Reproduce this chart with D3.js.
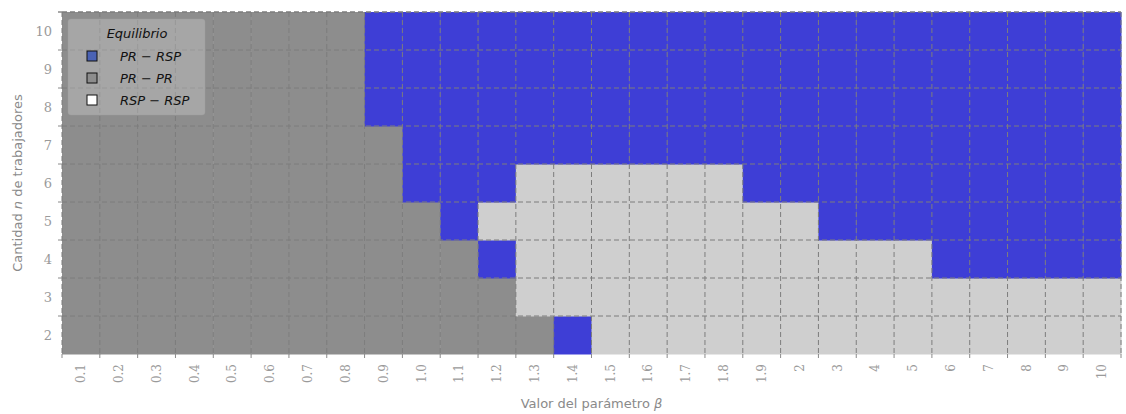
<!DOCTYPE html>
<html>
<head>
<meta charset="utf-8">
<script src="https://cdn.jsdelivr.net/npm/d3@7"></script>
<style>
  html, body { margin: 0; padding: 0; background: #fff; }
  svg { display: block; }
</style>
</head>
<body>
<svg id="chart" width="1126" height="414"></svg>
<script>
// β values along the horizontal axis
const betas = ["0.1","0.2","0.3","0.4","0.5","0.6","0.7","0.8","0.9","1.0","1.1","1.2","1.3","1.4","1.5","1.6","1.7","1.8","1.9","2","3","4","5","6","7","8","9","10"];
// number of workers n along the vertical axis
const workers = ["2","3","4","5","6","7","8","9","10"];
// equilibrium type per cell: 0 = PR−RSP, 1 = PR−PR, 2 = RSP−RSP
// one row per n (from n=2 up to n=10), one entry per β
const eqByN = {
  "2":  [1,1,1,1,1,1,1,1,1,1,1,1,1,0,2,2,2,2,2,2,2,2,2,2,2,2,2,2],
  "3":  [1,1,1,1,1,1,1,1,1,1,1,1,2,2,2,2,2,2,2,2,2,2,2,2,2,2,2,2],
  "4":  [1,1,1,1,1,1,1,1,1,1,1,0,2,2,2,2,2,2,2,2,2,2,2,0,0,0,0,0],
  "5":  [1,1,1,1,1,1,1,1,1,1,0,2,2,2,2,2,2,2,2,2,0,0,0,0,0,0,0,0],
  "6":  [1,1,1,1,1,1,1,1,1,0,0,0,2,2,2,2,2,2,0,0,0,0,0,0,0,0,0,0],
  "7":  [1,1,1,1,1,1,1,1,1,0,0,0,0,0,0,0,0,0,0,0,0,0,0,0,0,0,0,0],
  "8":  [1,1,1,1,1,1,1,1,0,0,0,0,0,0,0,0,0,0,0,0,0,0,0,0,0,0,0,0],
  "9":  [1,1,1,1,1,1,1,1,0,0,0,0,0,0,0,0,0,0,0,0,0,0,0,0,0,0,0,0],
  "10": [1,1,1,1,1,1,1,1,0,0,0,0,0,0,0,0,0,0,0,0,0,0,0,0,0,0,0,0]
};
const eqLabels = ["PR \u2212 RSP", "PR \u2212 PR", "RSP \u2212 RSP"];
const cellColors = ["#3e3ed6", "#8d8d8d", "#cfcfcf"];
const legendColors = ["#4a62b4", "#8d8d8d", "#ffffff"];

const svg = d3.select("#chart");
const margin = { left: 62, right: 5, top: 12, bottom: 60 };
const W = 1126, H = 414;
const x0 = margin.left, x1 = W - margin.right;
const y0 = margin.top, y1 = H - margin.bottom;

const x = d3.scaleBand().domain(betas).range([x0, x1]).padding(0);
const y = d3.scaleBand().domain(workers).range([y1, y0]).padding(0);

// cells
const cells = [];
workers.forEach(n => betas.forEach((b, i) => cells.push({ n, b, v: eqByN[n][i] })));
svg.append("g").selectAll("rect").data(cells).join("rect")
  .attr("x", d => x(d.b))
  .attr("y", d => y(d.n))
  .attr("width", x.bandwidth() + 0.5)
  .attr("height", y.bandwidth() + 0.5)
  .attr("fill", d => cellColors[d.v]);

// dashed grid on cell boundaries
const grid = svg.append("g").attr("stroke", "#7d7d7d").attr("stroke-width", 1)
  .attr("stroke-dasharray", "5,3").attr("fill", "none");
const xEdges = betas.map(b => x(b)).concat([x1]);
const yEdges = workers.map(n => y(n)).concat([y0]);
xEdges.forEach(px => grid.append("line").attr("x1", px).attr("x2", px).attr("y1", y0).attr("y2", y1));
yEdges.forEach(py => grid.append("line").attr("y1", py).attr("y2", py).attr("x1", x0).attr("x2", x1));

// tick marks on boundaries
const ticks = svg.append("g").attr("stroke", "#8a8a8a").attr("stroke-width", 1);
xEdges.forEach(px => ticks.append("line").attr("x1", px).attr("x2", px).attr("y1", y1).attr("y2", y1 + 4));
yEdges.forEach(py => ticks.append("line").attr("y1", py).attr("y2", py).attr("x1", x0 - 4).attr("x2", x0));

// tick labels at cell centres
const tickFont = "'DejaVu Serif', serif";
svg.append("g").selectAll("text").data(betas).join("text")
  .attr("transform", d => `translate(${x(d) + x.bandwidth() / 2},${y1 + 10}) rotate(-90)`)
  .attr("text-anchor", "end").attr("dy", "0.35em")
  .attr("font-family", tickFont).attr("font-size", 12).attr("fill", "#9a9a9a")
  .text(d => d);
svg.append("g").selectAll("text").data(workers).join("text")
  .attr("x", x0 - 10).attr("y", d => y(d) + y.bandwidth() / 2)
  .attr("text-anchor", "end").attr("dy", "0.35em")
  .attr("font-family", tickFont).attr("font-size", 13).attr("fill", "#9a9a9a")
  .text(d => d);

// axis titles
const labFont = "'DejaVu Sans', sans-serif";
const xl = svg.append("text").attr("x", (x0 + x1) / 2).attr("y", 408)
  .attr("text-anchor", "middle").attr("font-family", labFont).attr("font-size", 13).attr("fill", "#8a8a8a");
xl.append("tspan").text("Valor del parámetro ");
xl.append("tspan").attr("font-style", "italic").text("\u03b2");
const yl = svg.append("text").attr("transform", `translate(22,${(y0 + y1) / 2}) rotate(-90)`)
  .attr("text-anchor", "middle").attr("font-family", labFont).attr("font-size", 13).attr("fill", "#8a8a8a");
yl.append("tspan").text("Cantidad ");
yl.append("tspan").attr("font-style", "italic").text("n");
yl.append("tspan").text(" de trabajadores");

// legend
const lg = svg.append("g").attr("transform", "translate(68,19)");
lg.append("rect").attr("width", 137).attr("height", 96).attr("rx", 3)
  .attr("fill", "#ffffff").attr("fill-opacity", 0.22).attr("stroke", "#a0a0a0").attr("stroke-opacity", 0.4);
lg.append("text").attr("x", 69).attr("y", 19).attr("text-anchor", "middle")
  .attr("font-family", labFont).attr("font-size", 13).attr("font-style", "italic").attr("fill", "#111")
  .text("Equilibrio");
eqLabels.forEach((lab, i) => {
  const cy = 37 + i * 22;
  lg.append("rect").attr("x", 19).attr("y", cy - 5).attr("width", 10).attr("height", 10)
    .attr("fill", legendColors[i]).attr("stroke", "#111").attr("stroke-width", 1);
  lg.append("text").attr("x", 52).attr("y", cy).attr("dy", "0.35em")
    .attr("font-family", labFont).attr("font-size", 13).attr("font-style", "italic").attr("fill", "#111")
    .text(lab);
});
</script>
</body>
</html>
